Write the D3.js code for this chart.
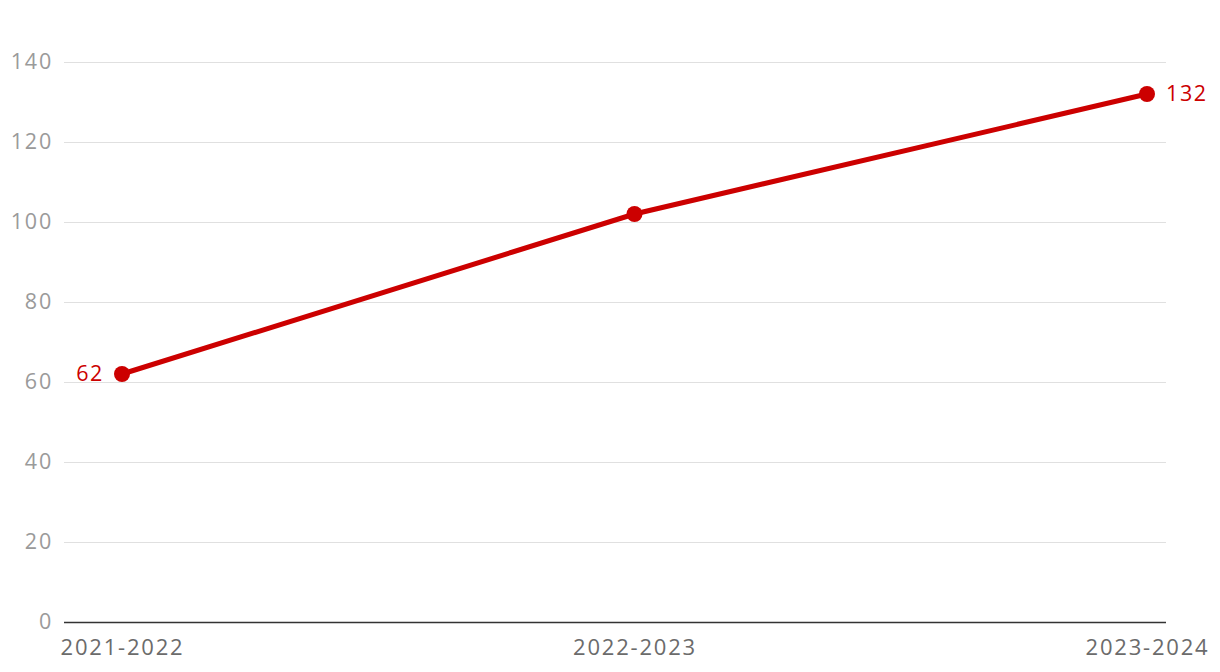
<!DOCTYPE html>
<html>
<head>
<meta charset="utf-8">
<script src="https://cdn.jsdelivr.net/npm/d3@7"></script>
<style>
  body { margin: 0; background: #fff; }
  svg { display: block; font-family: "Open Sans", sans-serif; }
</style>
</head>
<body>
<svg id="chart" width="1220" height="672"></svg>
<script>
// data
var seasons = ['2021-2022', '2022-2023', '2023-2024'];
var counts = [62, 102, 132];
var yTicks = [0, 20, 40, 60, 80, 100, 120, 140];

var svg = d3.select('#chart');

var x = d3.scalePoint()
    .domain(seasons)
    .range([122, 1147]);

var y = d3.scaleLinear()
    .domain([0, 140])
    .range([622, 62]);

var left = 64, right = 1166;

// gridlines + y labels
var yAxis = svg.append('g')
    .attr('transform', 'translate(' + left + ',0)')
    .call(d3.axisLeft(y).tickValues(yTicks).tickSize(-(right - left)).tickPadding(11));

yAxis.select('.domain').remove();
yAxis.selectAll('.tick line')
    .attr('stroke', function(d) { return d === 0 ? '#333' : '#e0e0e0'; })
    .attr('stroke-width', function(d) { return d === 0 ? 1.5 : 1.2; });
yAxis.selectAll('.tick text')
    .attr('fill', '#9a9a9a')
    .style('font-size', '21.5px')
    .style('letter-spacing', '1.8px')
    .style('font-family', '"Open Sans", sans-serif');

// x labels
var xAxis = svg.append('g')
    .attr('transform', 'translate(0,622)')
    .call(d3.axisBottom(x).tickSize(0).tickPadding(17));

xAxis.select('.domain').remove();
xAxis.selectAll('.tick text')
    .attr('fill', '#6b6b6b')
    .style('font-size', '22px')
    .style('letter-spacing', '1.8px')
    .style('font-family', '"Open Sans", sans-serif');

// line
var line = d3.line()
    .x(function(d, i) { return x(seasons[i]); })
    .y(function(d) { return y(d); });

svg.append('path')
    .datum(counts)
    .attr('d', line)
    .attr('fill', 'none')
    .attr('stroke', '#cc0000')
    .attr('stroke-width', 5);

svg.selectAll('.dot')
    .data(counts)
  .enter().append('circle')
    .attr('class', 'dot')
    .attr('cx', function(d, i) { return x(seasons[i]); })
    .attr('cy', function(d) { return y(d); })
    .attr('r', 8)
    .attr('fill', '#cc0000');

// end labels: first on the left, last on the right
var last = counts.length - 1;
svg.selectAll('.val')
    .data([0, last])
  .enter().append('text')
    .attr('class', 'val')
    .attr('x', function(i) { return x(seasons[i]) + (i === 0 ? -18 : 19); })
    .attr('y', function(i) { return y(counts[i]); })
    .attr('dy', '0.32em')
    .attr('text-anchor', function(i) { return i === 0 ? 'end' : 'start'; })
    .attr('fill', '#cc0000')
    .style('font-size', '21.5px')
    .style('letter-spacing', '1.6px')
    .text(function(i) { return counts[i]; });
</script>
</body>
</html>
